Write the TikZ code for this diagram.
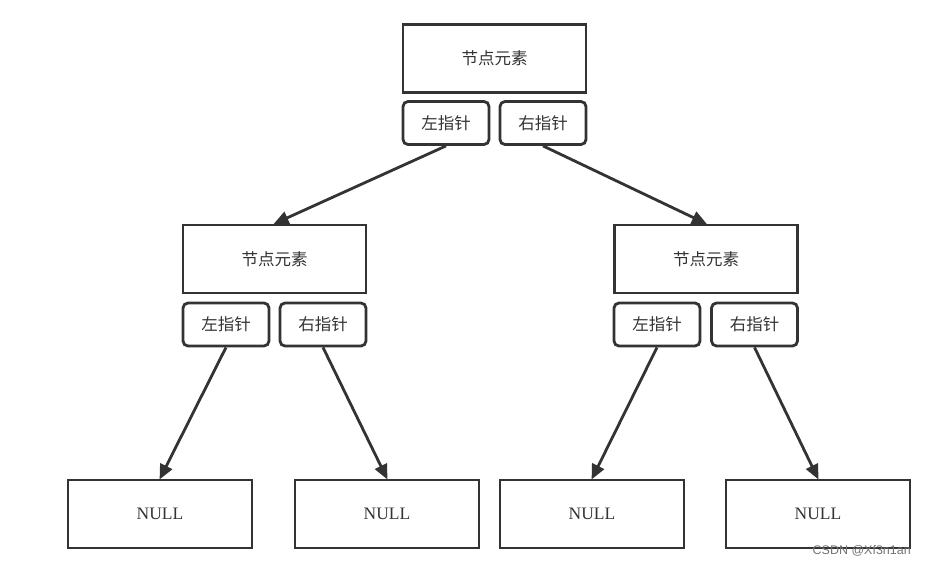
\documentclass[tikz,border=0pt]{standalone}
\usepackage{fontspec}
\setmainfont{Liberation Serif}
\newfontfamily\cjk{Noto Sans CJK SC}
\newfontfamily\wm{Liberation Sans}
\usetikzlibrary{arrows.meta}
\definecolor{ink}{HTML}{333333}
\tikzset{
  elem/.style={draw=ink, line width=2.8pt, minimum width=183pt, minimum height=68pt, inner sep=0pt, text=ink, font=\cjk\fontsize{16.5}{18}\selectfont},
  ptr/.style={draw=ink, line width=2.8pt, rounded corners=5pt, minimum width=86pt, minimum height=43pt, inner sep=0pt, text=ink, font=\cjk\fontsize{16.5}{18}\selectfont},
  nullbox/.style={draw=ink, line width=2.8pt, minimum width=184pt, minimum height=68pt, inner sep=0pt, text=ink, font=\fontsize{17.5}{20}\selectfont},
  link/.style={draw=ink, line width=2.8pt, -{Triangle[length=15pt,width=13pt]}, shorten >=-1pt}
}
\begin{document}
\begin{tikzpicture}[x=1pt,y=-1pt]
\useasboundingbox (0,0) rectangle (926,566);
% top
\node[elem] (root) at (494.5,58.5) {节点元素};
\node[ptr] (rl) at (446,123) {左指针};
\node[ptr] (rr) at (543,123) {右指针};
% mid left
\node[elem] (a) at (274.5,259) {节点元素};
\node[ptr] (al) at (226,324.5) {左指针};
\node[ptr] (ar) at (323,324.5) {右指针};
% mid right
\node[elem] (b) at (706,259) {节点元素};
\node[ptr] (bl) at (657,324.5) {左指针};
\node[ptr] (br) at (754.5,324.5) {右指针};
% nulls
\node[nullbox] (n1) at (160,514) {NULL};
\node[nullbox] (n2) at (387,514) {NULL};
\node[nullbox] (n3) at (592,514) {NULL};
\node[nullbox] (n4) at (818,514) {NULL};
% links
\draw[link] (rl.south) -- (a.north);
\draw[link] (rr.south) -- (b.north);
\draw[link] (al.south) -- (n1.north);
\draw[link] (ar.south) -- (n2.north);
\draw[link] (bl.south) -- (n3.north);
\draw[link] (br.south) -- (n4.north);
% watermark
\node[font=\wm\fontsize{12.5}{14}\selectfont, text=black!55, anchor=east, inner sep=0pt] (wmk) at (911,551) {CSDN @Xf3n1an};
\end{tikzpicture}
\end{document}
